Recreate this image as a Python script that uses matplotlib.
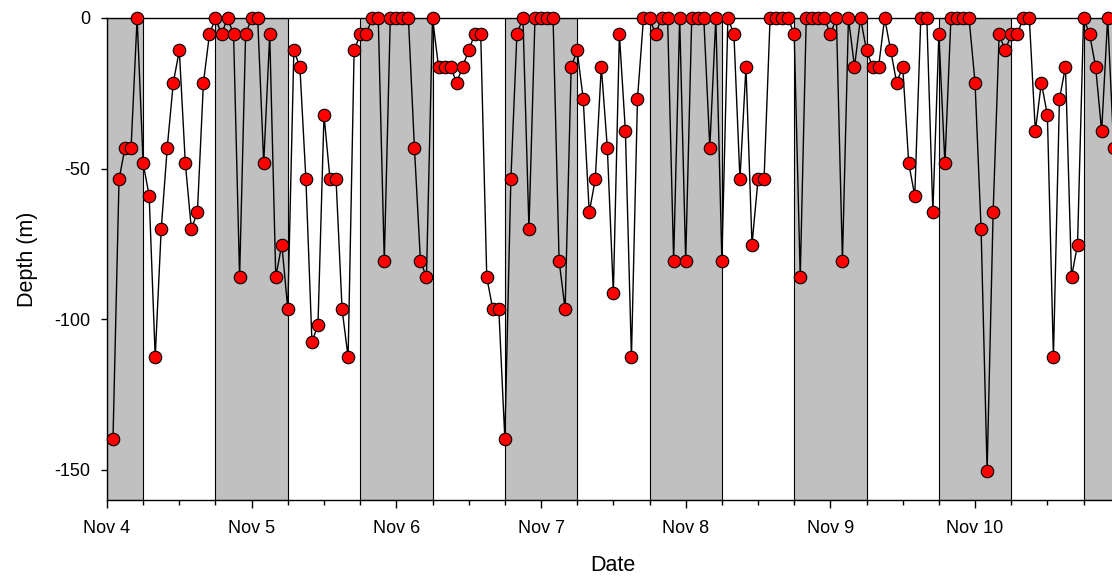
import numpy as np
import pandas as pd
import matplotlib
matplotlib.use('Agg')
import matplotlib.pyplot as plt
import matplotlib.dates as mdates

plt.rcParams['font.family'] = ['Liberation Sans', 'DejaVu Sans']

# hourly depth records, starting Nov 4 01:00
start = '2009-11-04 01:00'
depth = [
    # Nov 4 01-23
    -139.7, -53.6, -43, -43, 0, -48.3, -59, -112.6, -70, -43, -21.5, -10.8,
    -48.3, -70, -64.5, -21.5, -5.4, 0, -5.4, 0, -5.4, -86, -5.4,
    # Nov 5
    0, 0, -48.3, -5.4, -86, -75.2, -96.7, -10.8, -16.2, -53.6, -107.4, -102,
    -32.2, -53.6, -53.6, -96.7, -112.6, -10.8, -5.4, -5.4, 0, 0, -80.6, 0,
    # Nov 6
    0, 0, 0, -43, -80.6, -86, 0, -16.2, -16.2, -16.2, -21.5, -16.2,
    -10.8, -5.4, -5.4, -86, -96.7, -96.7, -139.7, -53.6, -5.4, 0, -70, 0,
    # Nov 7
    0, 0, 0, -80.6, -96.7, -16.2, -10.8, -26.9, -64.5, -53.6, -16.2, -43,
    -91.4, -5.4, -37.6, -112.6, -26.9, 0, 0, -5.4, 0, 0, -80.6, 0,
    # Nov 8
    -80.6, 0, 0, 0, -43, 0, -80.6, 0, -5.4, -53.6, -16.2, -75.2,
    -53.6, -53.6, 0, 0, 0, 0, -5.4, -86, 0, 0, 0, 0,
    # Nov 9
    -5.4, 0, -80.6, 0, -16.2, 0, -10.8, -16.2, -16.2, 0, -10.8, -21.5,
    -16.2, -48.3, -59, 0, 0, -64.5, -5.4, -48.3, 0, 0, 0, 0,
    # Nov 10
    -21.5, -70, -150.4, -64.5, -5.4, -10.8, -5.4, -5.4, 0, 0, -37.6, -21.5,
    -32.2, -112.6, -26.9, -16.2, -86, -75.2, 0, -5.4, -16.2, -37.6, 0, -43,
]
times = pd.date_range(start, periods=len(depth), freq='h')

# night periods (18:00 - 06:00)
night_start = pd.to_datetime(['2009-11-04 00:00', '2009-11-04 18:00', '2009-11-05 18:00',
                              '2009-11-06 18:00', '2009-11-07 18:00', '2009-11-08 18:00',
                              '2009-11-09 18:00', '2009-11-10 18:00'])
night_end = pd.to_datetime(['2009-11-04 06:00', '2009-11-05 06:00', '2009-11-06 06:00',
                            '2009-11-07 06:00', '2009-11-08 06:00', '2009-11-09 06:00',
                            '2009-11-10 06:00', '2009-11-11 06:00'])

fig = plt.figure(figsize=(11.12, 5.81), dpi=100)
# axes run a little past the right edge of the figure, like the original
ax = fig.add_axes([0.0962, 0.1394, 0.9103, 0.8297])

for s, e in zip(night_start, night_end):
    ax.axvspan(s, e, facecolor='#c0c0c0', edgecolor='black', linewidth=0.8, zorder=1)

ax.plot(times, depth, color='black', linewidth=1, marker='o', markersize=9,
        markerfacecolor='red', markeredgecolor='black', markeredgewidth=0.8,
        zorder=3, clip_on=False)

ax.set_xlim(pd.Timestamp('2009-11-04 00:00'), pd.Timestamp('2009-11-10 23:55'))
ax.set_ylim(-160, 0)
ax.set_yticks([0, -50, -100, -150])
ax.set_yticklabels(['0', '-50', '-100', '-150'])

ax.xaxis.set_major_locator(mdates.DayLocator())
ax.xaxis.set_minor_locator(mdates.HourLocator(byhour=[6, 12, 18]))
ax.xaxis.set_major_formatter(mdates.DateFormatter('%b %-d'))

ax.tick_params(axis='x', which='major', length=5.5, width=1, labelsize=13, pad=9)
ax.tick_params(axis='x', which='minor', length=3.5, width=1)
ax.tick_params(axis='y', which='major', length=4.5, width=1, labelsize=13, pad=7.5)

for sp in ax.spines.values():
    sp.set_linewidth(1)
    sp.set_zorder(2)

ax.set_xlabel('Date', fontsize=15.5, labelpad=13)
ax.set_ylabel('Depth (m)', fontsize=15.5, labelpad=12)

fig.savefig('out.png', dpi=100)
